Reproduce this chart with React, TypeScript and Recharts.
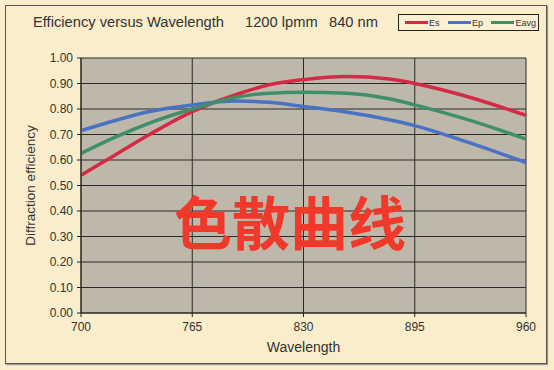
import React from "react"
import { LineChart, Line, XAxis, YAxis, CartesianGrid } from "recharts"

const wavelengths = [700, 720, 740, 765, 790, 810, 830, 855, 880, 895, 925, 960]
const es = [0.54, 0.62, 0.7, 0.79, 0.855, 0.895, 0.915, 0.927, 0.918, 0.9, 0.85, 0.775]
const ep = [0.715, 0.755, 0.79, 0.816, 0.831, 0.826, 0.81, 0.788, 0.758, 0.735, 0.672, 0.59]
const eavg = [0.626, 0.69, 0.745, 0.8, 0.845, 0.862, 0.866, 0.862, 0.84, 0.816, 0.76, 0.682]

const xTicks = [700, 765, 830, 895, 960]
const yTicks = [0, 0.1, 0.2, 0.3, 0.4, 0.5, 0.6, 0.7, 0.8, 0.9, 1.0]

const series = [
  { key: "Es", color: "#d42a45" },
  { key: "Ep", color: "#4a72c4" },
  { key: "Eavg", color: "#3f8f6a" },
]

const data = wavelengths.map((w, i) => ({ w, Es: es[i], Ep: ep[i], Eavg: eavg[i] }))

const font = "'Liberation Sans', Arial, sans-serif"

function LegendBox() {
  return (
    <div
      style={{
        position: "absolute",
        left: 398,
        top: 14,
        width: 141,
        height: 17,
        boxSizing: "border-box",
        display: "flex",
        alignItems: "center",
        justifyContent: "space-between",
        padding: "0 2px 0 6px",
        border: "1px solid #222",
        background: "#fbf0d2",
        fontFamily: font,
        fontSize: 9,
        color: "#333",
      }}
    >
      {series.map((s) => (
        <div key={s.key} style={{ display: "flex", alignItems: "center" }}>
          <span style={{ display: "inline-block", width: 23, height: 2.5, background: s.color, marginRight: 1 }} />
          <span>{s.key}</span>
        </div>
      ))}
    </div>
  )
}

export default function App() {
  const titleStyle: React.CSSProperties = { position: "absolute", top: 14, fontSize: 14.7, color: "#333", whiteSpace: "pre" }
  return (
    <div
      style={{
        position: "absolute",
        left: 0,
        top: 0,
        width: 554,
        height: 370,
        background: "#f9edcb",
        fontFamily: font,
      }}
    >
      <div
        style={{
          position: "absolute",
          left: 5,
          top: 5,
          width: 540,
          height: 357,
          border: "1px solid #555",
          boxShadow: "1px 1px 1px #999",
        }}
      />
      <div style={{ ...titleStyle, left: 33 }}>Efficiency versus Wavelength</div>
      <div style={{ ...titleStyle, left: 245 }}>1200 lpmm</div>
      <div style={{ ...titleStyle, left: 329 }}>840 nm</div>
      <LegendBox />
      <div style={{ position: "absolute", left: 0, top: 0 }}>
        <LineChart width={554} height={370} data={data} margin={{ top: 58, right: 28, bottom: 0, left: 0 }}>
          <CartesianGrid stroke="#2a2a2a" strokeWidth={1} fill="#bdb8a9" horizontalValues={yTicks} verticalValues={xTicks} />
          <XAxis
            dataKey="w"
            type="number"
            domain={[700, 960]}
            ticks={xTicks}
            stroke="#222"
            tickSize={4}
            tickMargin={5}
            tick={{ fill: "#333", fontSize: 12 }}
            tickLine={{ stroke: "#222" }}
            label={{ value: "Wavelength", position: "insideBottom", offset: 18, fill: "#333", fontSize: 14 }}
            height={57}
          />
          <YAxis
            type="number"
            domain={[0, 1]}
            ticks={yTicks}
            stroke="#222"
            tickSize={4}
            tickMargin={4}
            tickFormatter={(v: number) => v.toFixed(2)}
            tick={{ fill: "#333", fontSize: 12 }}
            tickLine={{ stroke: "#222" }}
            width={81}
            label={{ value: "Diffraction efficiency", angle: -90, position: "insideLeft", offset: 30, fill: "#333", fontSize: 13.5, style: { textAnchor: "middle" } }}
          />
          {series.map((s) => (
            <Line
              key={s.key}
              type="monotone"
              dataKey={s.key}
              stroke={s.color}
              strokeWidth={3.5}
              dot={false}
              isAnimationActive={false}
            />
          ))}
        </LineChart>
      </div>
      <div
        style={{
          position: "absolute",
          left: 0,
          width: 580,
          top: 184,
          textAlign: "center",
          fontFamily: "'Noto Sans CJK SC', sans-serif",
          fontWeight: 700,
          fontSize: 58,
          lineHeight: "72px",
          color: "#f0392b",
          pointerEvents: "none",
        }}
      >
        色散曲线
      </div>
    </div>
  )
}
